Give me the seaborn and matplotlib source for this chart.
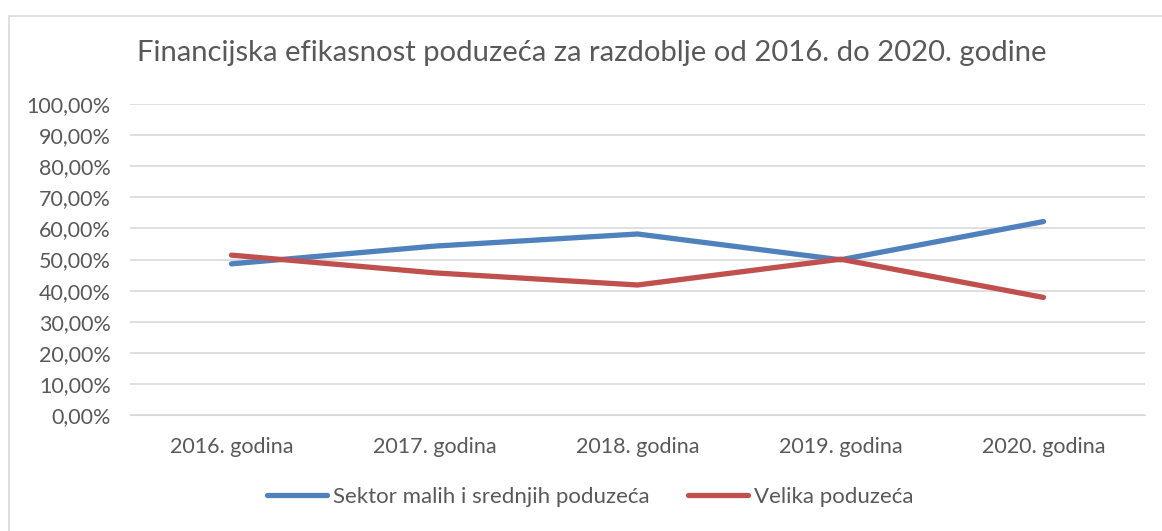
import pandas as pd
import seaborn as sns
import matplotlib.pyplot as plt
from matplotlib.patches import Rectangle
from matplotlib.lines import Line2D
from matplotlib.ticker import FuncFormatter

# data
years = ["2016. godina", "2017. godina", "2018. godina", "2019. godina", "2020. godina"]
msp = [0.486, 0.543, 0.582, 0.499, 0.622]
velika = [0.514, 0.457, 0.418, 0.501, 0.378]
series_names = ["Sektor malih i srednjih poduzeća", "Velika poduzeća"]

df = pd.DataFrame({
    "godina": years * 2,
    "vrijednost": msp + velika,
    "serija": [series_names[0]] * len(years) + [series_names[1]] * len(years),
})
df["pos"] = list(range(len(years))) * 2

sns.set_style("white")
plt.rcParams["font.family"] = ["Lato", "DejaVu Sans"]

fig = plt.figure(figsize=(11.62, 5.31), dpi=100)
ax = fig.add_axes([130 / 1162, 1 - 415 / 531, 1015 / 1162, 311 / 531])

palette = {series_names[0]: "#4F81BD", series_names[1]: "#C0504D"}
sns.lineplot(data=df, x="pos", y="vrijednost", hue="serija", palette=palette,
             linewidth=3.8, solid_capstyle="round", ax=ax, legend=False)

ax.set_xlim(-0.5, 4.5)
ax.set_ylim(0, 1.0)
ax.set_yticks([i / 10 for i in range(11)])
ax.yaxis.set_major_formatter(FuncFormatter(lambda v, _: f"{v * 100:.2f}%".replace(".", ",")))
ax.set_xticks(range(len(years)))
ax.set_xticklabels(years)
ax.grid(axis="y", color="#D9D9D9", linewidth=1.2)
ax.set_axisbelow(True)
for s in ["top", "right", "left"]:
    ax.spines[s].set_visible(False)
ax.spines["bottom"].set_color("#D9D9D9")
ax.tick_params(axis="both", labelsize=15.5, colors="#595959", length=0)
ax.tick_params(axis="y", pad=14)
ax.tick_params(axis="x", pad=16)
ax.set_xlabel("")
ax.set_ylabel("")

fig.text(0.509, 1 - 53 / 531, "Financijska efikasnost poduzeća za razdoblje od 2016. do 2020. godine",
         ha="center", va="center", fontsize=21.1, color="#595959")

# legend
handles = [Line2D([], [], color=palette[n], linewidth=3.8) for n in series_names]
fig.legend(handles, series_names, loc="center", bbox_to_anchor=(0.508, 1 - 497 / 531),
           ncol=2, frameon=False, fontsize=16, labelcolor="#595959",
           handlelength=2.7, columnspacing=1.75, handletextpad=0.25)

fig.patches.append(Rectangle((9 / 1162, -0.01), 1.1, 1 - 11 / 531, transform=fig.transFigure,
                             fill=False, edgecolor="#D9D9D9", linewidth=1.2))

fig.savefig("out.png", dpi=100)
